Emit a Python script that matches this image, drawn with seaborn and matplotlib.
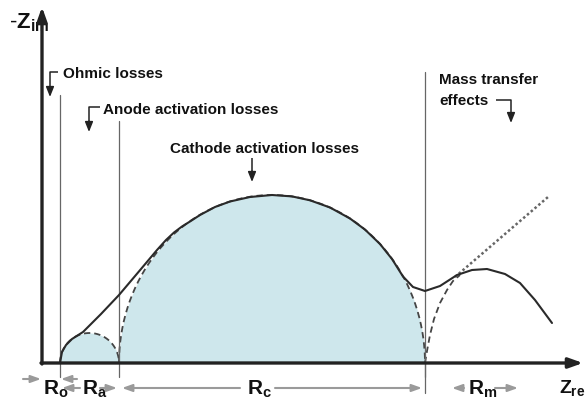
import numpy as np
import pandas as pd
import matplotlib
matplotlib.use("Agg")
import matplotlib.pyplot as plt
import seaborn as sns

# ---------------- data (arbitrary impedance units) ----------------
R_ohm = 18          # ohmic resistance (offset)
R_anode = 59        # anode charge-transfer resistance
R_cathode = 306     # cathode charge-transfer resistance
anode_height = 30
cathode_height = 168

# measured (solid) impedance spectrum
solid_x = [18, 20, 24, 30, 41, 59, 77, 99, 115, 124, 132, 140, 148, 158, 173,
           188, 208, 230, 250, 268, 288, 308, 323, 338, 350, 361, 371, 383,
           398, 415, 430, 445, 463, 478, 493, 510]
solid_y = [0, 11, 18, 24, 31, 49, 68, 94, 113, 123, 130.5, 136.5, 141.5, 148,
           156, 161.5, 166, 168, 166.6, 162.7, 155.5, 144.5, 133.4, 119, 104,
           86.5, 76, 72, 77, 88, 93, 94, 89, 80, 63, 40]

# mass-transfer arc (dashed) and Warburg line (dotted)
mass_x = [383, 385, 388, 392, 398, 405, 411, 418]
mass_y = [0, 12, 28, 44, 60, 73, 82, 88]
warburg_x = [413, 506]
warburg_y = [86, 166]

# vertical marker lines: x, top
marker_x = [18, 77, 383]
marker_top = [268, 242, 291]

labels_bottom = ["$R_{o}$", "$R_{a}$", "$R_{c}$", "$R_{m}$"]
labels_bottom_x = [1, 40, 205, 426]

# ---------------- style ----------------
sns.set_theme(style="white")
plt.rcParams["font.family"] = ["Liberation Sans", "DejaVu Sans"]
plt.rcParams["mathtext.fontset"] = "custom"
plt.rcParams["mathtext.rm"] = "Liberation Sans:bold"
plt.rcParams["mathtext.it"] = "Liberation Sans:bold"
plt.rcParams["mathtext.bf"] = "Liberation Sans:bold"

fig = plt.figure(figsize=(5.87, 4.03), dpi=100)
ax = fig.add_axes([0, 0, 1, 1])
ax.set_xlim(-42, 545)
ax.set_ylim(-40, 363)
ax.axis("off")

fill_c = "#cee7ec"
line_c = "#2a2a2a"
dash_c = "#444444"

# semicircles from resistances
theta = np.linspace(0, np.pi, 300)
a_c = R_ohm + R_anode / 2
ax_arc = a_c - R_anode / 2 * np.cos(theta)
ay_arc = anode_height * np.sin(theta)
c_c = R_ohm + R_anode + R_cathode / 2
cx_arc = c_c - R_cathode / 2 * np.cos(theta)
cy_arc = cathode_height * np.sin(theta)

ax.fill_between(ax_arc, 0, ay_arc, color=fill_c, lw=0, zorder=1)
ax.fill_between(cx_arc, 0, cy_arc, color=fill_c, lw=0, zorder=1)

arcs = pd.DataFrame({"x": np.r_[ax_arc, cx_arc], "y": np.r_[ay_arc, cy_arc],
                     "arc": ["a"] * len(theta) + ["c"] * len(theta)})
for key, sub in arcs.groupby("arc"):
    sns.lineplot(data=sub, x="x", y="y", sort=False, estimator=None, ax=ax,
                 color=dash_c, lw=1.3, linestyle=(0, (3.5, 2.2)), zorder=2)

sns.lineplot(x=mass_x, y=mass_y, sort=False, estimator=None, ax=ax,
             color=dash_c, lw=1.3, linestyle=(0, (3.5, 2.2)), zorder=2)
sns.lineplot(x=warburg_x, y=warburg_y, sort=False, estimator=None, ax=ax,
             color="#666666", lw=1.8, linestyle=(0, (1, 1)), zorder=2)
sns.lineplot(x=solid_x, y=solid_y, sort=False, estimator=None, ax=ax,
             color=line_c, lw=1.5, zorder=3)

# vertical marker lines
for mx, mt in zip(marker_x, marker_top):
    ax.plot([mx, mx], [-14, mt], color="#666666", lw=0.9, zorder=2)
ax.plot([383, 383], [-30, 0], color="#666666", lw=0.9, zorder=2)

# axes with arrows
ax.annotate("", xy=(0, 356), xytext=(0, -1),
            arrowprops=dict(arrowstyle="-|>,head_length=0.7,head_width=0.25",
                            lw=2.4, color="#222222", shrinkA=0, shrinkB=0), zorder=4)
ax.annotate("", xy=(541, 0), xytext=(-1, 0),
            arrowprops=dict(arrowstyle="-|>,head_length=0.7,head_width=0.25",
                            lw=2.4, color="#222222", shrinkA=0, shrinkB=0), zorder=4)

tk = dict(fontsize=11, fontweight="bold", color="#111111")
ax.text(21, 289, "Ohmic losses", va="center", ha="left", **tk)
ax.text(61, 253, "Anode activation losses", va="center", ha="left", **tk)
ax.text(223, 214, "Cathode activation losses", va="center", ha="center", **tk)
ax.text(397, 283, "Mass transfer", va="center", ha="left", **tk)
ax.text(397, 262, "effects", va="center", ha="left", **tk)

def bracket(pts, tip):
    xs = [p[0] for p in pts]
    ys = [p[1] for p in pts]
    ax.plot(xs, ys, color="#222222", lw=1.1, solid_capstyle="butt")
    ax.annotate("", xy=tip, xytext=pts[-1],
                arrowprops=dict(arrowstyle="-|>,head_length=0.5,head_width=0.2",
                                lw=1.1, color="#222222", shrinkA=0, shrinkB=0))

bracket([(16, 291), (8, 291), (8, 276)], (8, 266))
bracket([(58, 256), (47, 256), (47, 242)], (47, 231))
bracket([(210, 205), (210, 192)], (210, 181))
bracket([(454, 263), (469, 263), (469, 250)], (469, 240))

# axis labels
ax.text(-33, 340, "-$Z_{im}$", fontsize=16, va="center", ha="left", color="#111111")
ax.text(517, -30, "$Z_{re}$", fontsize=14, va="baseline", ha="left", color="#111111")
for lab, lx in zip(labels_bottom, labels_bottom_x):
    ax.text(lx, -32, lab, fontsize=15, va="baseline", ha="left", color="#111111")

# dimension arrows
g = "#9a9a9a"
def dim(x0, x1, y):
    ax.annotate("", xy=(x1, y), xytext=(x0, y),
                arrowprops=dict(arrowstyle="-|>,head_length=0.5,head_width=0.18",
                                lw=1.5, color=g, shrinkA=0, shrinkB=0))

dim(-19, -1, -16)
dim(35, 19, -16)
dim(38, 20, -25)
dim(58, 75, -25)
dim(198, 80, -25)
dim(233, 380, -25)
dim(422, 410, -25)
dim(453, 476, -25)

fig.savefig("out.png", dpi=100)
